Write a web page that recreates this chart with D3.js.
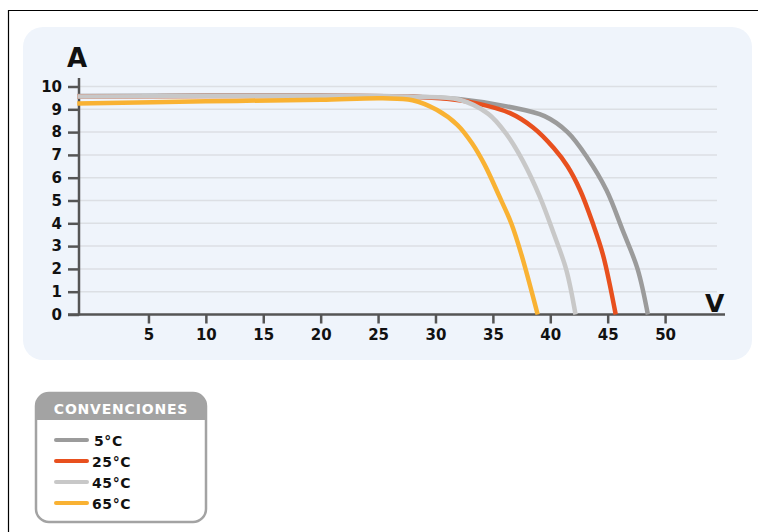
<!DOCTYPE html>
<html>
<head>
<meta charset="utf-8">
<script src="https://cdn.jsdelivr.net/npm/d3@7"></script>
<style>
  html, body { margin: 0; padding: 0; background: #fff; }
  svg { display: block; }
  text { font-family: "DejaVu Sans", sans-serif; font-weight: bold; fill: #111; }
</style>
</head>
<body>
<svg id="chart" width="758" height="532"></svg>
<script>
// I–V curves of a PV module at four cell temperatures
const seriesNames = ["5°C", "25°C", "45°C", "65°C"];
const seriesColors = ["#9b9b9b", "#e8501e", "#c8c8c8", "#f9b233"];

const curve5 = [[-1.2, 9.58], [10, 9.6], [20, 9.6], [28, 9.56], [32, 9.45], [36.5, 9.1], [39.5, 8.7], [41.5, 8.0], [43.2, 6.9], [44.9, 5.45], [46.3, 3.7], [47.6, 2.0], [48.5, 0]];
const curve25 = [[-1.2, 9.56], [10, 9.58], [20, 9.58], [28, 9.55], [31, 9.46], [33.5, 9.27], [36.5, 8.83], [38.5, 8.2], [40.3, 7.3], [41.5, 6.5], [42.6, 5.45], [43.7, 4.0], [44.6, 2.6], [45.7, 0]];
const curve45 = [[-1.2, 9.56], [10, 9.58], [20, 9.58], [28, 9.55], [32.1, 9.42], [34.6, 8.8], [36.2, 7.9], [37.6, 6.75], [39.1, 5.15], [40.3, 3.55], [41.4, 1.95], [42.2, 0]];
const curve65 = [[-1.2, 9.25], [10, 9.35], [20, 9.42], [25.4, 9.48], [28, 9.4], [30.1, 8.98], [31.9, 8.32], [33.2, 7.5], [34.3, 6.55], [35.5, 5.25], [36.6, 4.0], [37.5, 2.6], [38.9, 0]];
const seriesValues = [curve5, curve25, curve45, curve65];

const xTicks = [5, 10, 15, 20, 25, 30, 35, 40, 45, 50];
const yTicks = [0, 1, 2, 3, 4, 5, 6, 7, 8, 9, 10];
const yTitle = "A";
const xTitle = "V";
const legendTitle = "CONVENCIONES";

const svg = d3.select("#chart");

// outer frame (top and left edges)
svg.append("path")
  .attr("d", "M8.5,532 V10.5 H758")
  .attr("fill", "none").attr("stroke", "#000").attr("stroke-width", 1.2);

// chart panel
svg.append("rect")
  .attr("x", 23).attr("y", 27).attr("width", 729).attr("height", 333)
  .attr("rx", 20).attr("fill", "#eff4fb");

const x0 = 79, yBase = 314.5;
const x = d3.scaleLinear().domain([-1.05, 55]).range([x0, x0 + 643.5]);
const y = d3.scaleLinear().domain([0, 10]).range([yBase, 86.5]);

// horizontal grid
svg.append("g").selectAll("line").data(yTicks.filter(d => d > 0)).join("line")
  .attr("x1", x0).attr("x2", 717)
  .attr("y1", d => y(d)).attr("y2", d => y(d))
  .attr("stroke", "#dcdfe4").attr("stroke-width", 1.5);

// y axis
const yAxis = svg.append("g").attr("transform", `translate(${x0},0)`)
  .call(d3.axisLeft(y).tickValues(yTicks).tickSize(11).tickPadding(6));
yAxis.select(".domain").remove();
yAxis.selectAll(".tick line").attr("stroke", "#555").attr("stroke-width", 2.5);
yAxis.selectAll(".tick text")
  .style("font-size", "15px").style("font-family", "DejaVu Sans").style("font-weight", "bold").attr("fill", "#111");
svg.append("line").attr("x1", x0).attr("x2", x0).attr("y1", 78).attr("y2", yBase + 1)
  .attr("stroke", "#555").attr("stroke-width", 2.5);

// x axis
const xAxis = svg.append("g").attr("transform", `translate(0,${yBase})`)
  .call(d3.axisBottom(x).tickValues(xTicks).tickSize(9).tickPadding(6));
xAxis.select(".domain").remove();
xAxis.selectAll(".tick line").attr("stroke", "#555").attr("stroke-width", 2.5);
xAxis.selectAll(".tick text")
  .style("font-size", "15px").style("font-family", "DejaVu Sans").style("font-weight", "bold").attr("fill", "#111");
svg.append("line").attr("x1", x0 - 11).attr("x2", 725).attr("y1", yBase).attr("y2", yBase)
  .attr("stroke", "#555").attr("stroke-width", 2.5);

// axis titles
svg.append("text").attr("x", 67).attr("y", 67).style("font-size", "26px").text(yTitle);
svg.append("text").attr("x", 705).attr("y", 312).style("font-size", "25px").text(xTitle);

// curves
const line = d3.line().x(d => x(d[0])).y(d => y(d[1])).curve(d3.curveCatmullRom.alpha(0.5));
svg.append("g").selectAll("path").data(seriesValues).join("path")
  .attr("d", line)
  .attr("fill", "none")
  .attr("stroke", (d, i) => seriesColors[i])
  .attr("stroke-width", 4.5)
  .attr("stroke-linecap", "butt");

// legend
const lg = svg.append("g");
lg.append("rect").attr("x", 36).attr("y", 393).attr("width", 170).attr("height", 129)
  .attr("rx", 13).attr("fill", "#fff").attr("stroke", "#a3a3a3").attr("stroke-width", 2.5);
lg.append("path")
  .attr("d", "M36,420 V406 a13,13 0 0 1 13,-13 H193 a13,13 0 0 1 13,13 V420 Z")
  .attr("fill", "#a3a3a3");
lg.append("text").attr("x", 121).attr("y", 414).attr("text-anchor", "middle")
  .style("font-size", "14px").style("letter-spacing", "0.8px").style("fill", "#fff").text(legendTitle);
const items = lg.selectAll("g.item").data(seriesNames).join("g").attr("class", "item")
  .attr("transform", (d, i) => `translate(0,${440 + i * 21})`);
items.append("line").attr("x1", 56).attr("x2", 87).attr("y1", 0).attr("y2", 0)
  .attr("stroke", (d, i) => seriesColors[i]).attr("stroke-width", 4).attr("stroke-linecap", "round");
items.append("text").attr("x", (d, i) => i === 0 ? 94 : 92).attr("y", 5.5)
  .style("font-size", "14px").style("letter-spacing", "0.6px").text(d => d);
</script>
</body>
</html>
